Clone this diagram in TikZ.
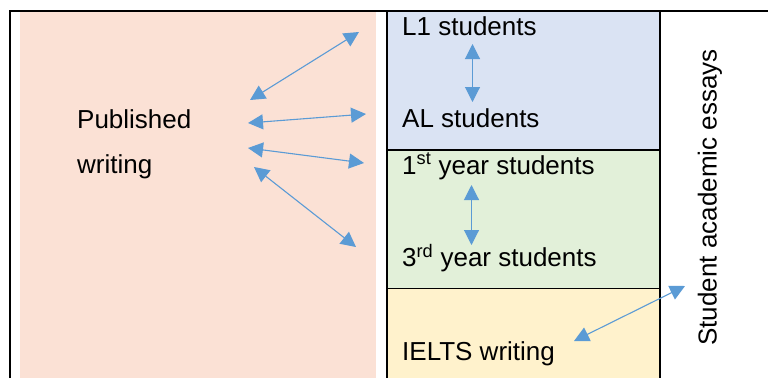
\documentclass[tikz,border=0pt]{standalone}
\usepackage{fontspec}
\setmainfont{Liberation Sans}
\usetikzlibrary{arrows.meta}
\definecolor{pinkfill}{HTML}{FBE1D5}
\definecolor{bluefill}{HTML}{DAE3F3}
\definecolor{greenfill}{HTML}{E2F0D9}
\definecolor{yellowfill}{HTML}{FFF2CC}
\definecolor{arrowblue}{HTML}{5B9BD5}
\tikzset{
  lbl/.style={anchor=base west, inner sep=0pt, font=\fontsize{26}{30}\selectfont},
  dbl/.style={draw=arrowblue, line width=1.1pt, {Triangle[length=15pt,width=15pt]}-{Triangle[length=15pt,width=15pt]}},
  box/.style={draw=black, line width=1.6pt}
}
\begin{document}
\begin{tikzpicture}[x=1pt,y=-1pt]
\useasboundingbox (0,0) rectangle (768,378);
\fill[white] (0,0) rectangle (768,378);
% pink area
\fill[pinkfill] (20,12) rectangle (376,378);
% middle boxes
\fill[bluefill] (387,11) rectangle (660,150);
\fill[greenfill] (387,150) rectangle (660,288.5);
\fill[yellowfill] (387,288.5) rectangle (660,378);
\draw[box] (387,150) -- (660,150);
\draw[box] (387,288.5) -- (660,288.5);
\draw[box] (387,11) -- (387,378);
\draw[box] (660,11) -- (660,378);
% outer frame
\draw[box] (10,378) -- (10,11) -- (768,11);
% texts
\node[lbl] (pub) at (77,128) {Published};
\node[lbl] (wri) at (77,173) {writing};
\node[lbl] (l1) at (402,35) {L1 students};
\node[lbl] (al) at (402,127.5) {AL students};
\node[lbl] (y1) at (402,174) {1\textsuperscript{st} year students};
\node[lbl] (y3) at (402,266.5) {3\textsuperscript{rd} year students};
\node[lbl] (ielts) at (402,360.5) {IELTS writing};
\node[inner sep=0pt, rotate=90, font=\fontsize{26}{30}\selectfont] (sae) at (710,197.5) {Student academic essays};
% arrow endpoints
\coordinate (a1s) at (250,100); \coordinate (a1e) at (359,32);
\coordinate (a2s) at (248,123); \coordinate (a2e) at (366,114);
\coordinate (a3s) at (248,148); \coordinate (a3e) at (364,163);
\coordinate (a4s) at (254,167); \coordinate (a4e) at (356,247);
\coordinate (v1s) at (472.5,44); \coordinate (v1e) at (472.5,102);
\coordinate (v2s) at (471.5,185); \coordinate (v2e) at (471.5,245);
\coordinate (a5s) at (574,341); \coordinate (a5e) at (685,286);
\draw[dbl] (a1s) -- (a1e);
\draw[dbl] (a2s) -- (a2e);
\draw[dbl] (a3s) -- (a3e);
\draw[dbl] (a4s) -- (a4e);
\draw[dbl] (v1s) -- (v1e);
\draw[dbl] (v2s) -- (v2e);
\draw[dbl] (a5s) -- (a5e);
\end{tikzpicture}
\end{document}
